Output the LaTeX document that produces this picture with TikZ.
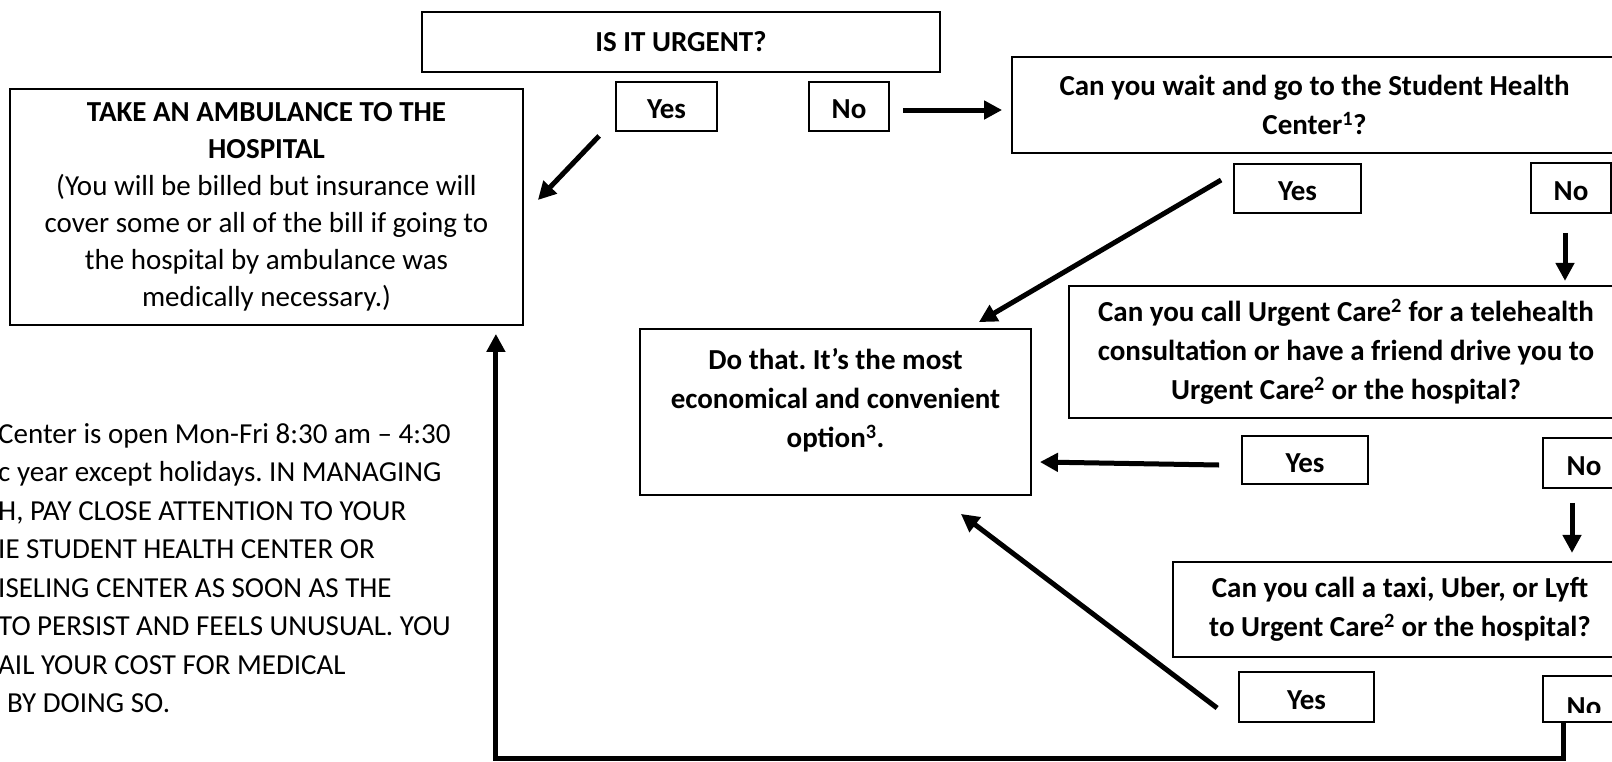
\documentclass[tikz,border=0pt]{standalone}
\usepackage{fontspec}
\setmainfont{Carlito}
\usetikzlibrary{arrows.meta}
\frenchspacing

\tikzset{
  qbox/.style={draw, line width=1.8pt, inner sep=0pt, align=center,
    font=\fontsize{29}{39}\selectfont\bfseries},
  ansbox/.style={qbox, minimum height=49pt, text height=30pt, text depth=6pt},
  arr/.style={line width=5pt, -{Triangle[length=18pt,width=18pt]}},
}

\begin{document}
\begin{tikzpicture}[x=1pt, y=-1pt]
\path[use as bounding box, fill=white] (0,0) rectangle (1612,761);
\clip (0,0) rectangle (1612,761);

% question boxes
\node[qbox, minimum width=518pt, minimum height=60pt] (urgent) at (681,42) {IS IT URGENT?};
\node[ansbox, minimum width=101pt] (yes1) at (666.5,106.5) {Yes};
\node[ansbox, minimum width=80pt] (no1) at (849,106.5) {No};

\node[draw, line width=1.8pt, minimum width=513pt, minimum height=236pt, inner sep=0pt,
  align=center, font=\fontsize{29}{37}\selectfont] (take) at (266.5,207)
  {\textbf{TAKE AN AMBULANCE TO THE}\\\textbf{HOSPITAL}\\(You will be billed but insurance will\\
   cover some or all of the bill if going to\\the hospital by ambulance was\\medically necessary.)};

\node[qbox, minimum width=605pt, minimum height=96pt] (wait) at (1314.5,105)
  {Can you wait and go to the Student Health\\Center\textsuperscript{1}?};
\node[ansbox, minimum width=127pt] (yes2) at (1297.5,188.5) {Yes};
\node[ansbox, minimum width=80pt, minimum height=50pt] (no2) at (1571,188) {No};

\node[qbox, minimum width=554pt, minimum height=132pt] (ucare) at (1346,352)
  {Can you call Urgent Care\textsuperscript{2} for a telehealth\\consultation or have a friend drive you to\\Urgent Care\textsuperscript{2} or the hospital?};

\node[qbox, minimum width=391pt, minimum height=166pt] (do) at (835.5,412) {};
\node[qbox, draw=none] (dotext) at ([shift={(0,-12)}]do.center)
  {Do that. It's the most\\economical and convenient\\option\textsuperscript{3}.};

\node[ansbox, minimum width=126pt, minimum height=48pt] (yes3) at (1305,460) {Yes};
\node[ansbox, minimum width=82pt, minimum height=50pt] (no3) at (1584,463) {No};

\node[qbox, minimum width=454pt, minimum height=95pt] (taxi) at (1400,609.5)
  {Can you call a taxi, Uber, or Lyft\\to Urgent Care\textsuperscript{2} or the hospital?};
\node[ansbox, minimum width=135pt, minimum height=50pt] (yes4) at (1306.5,697) {Yes};
\node[ansbox, minimum width=82pt, minimum height=46pt] (no4) at (1584,699) {};
\begin{scope}
  \clip (no4.north west) rectangle ([shift={(0,-10)}]no4.south east);
  \node[qbox, draw=none] (no4text) at ([shift={(0,8)}]no4.center) {No};
\end{scope}

% footnote text, cut at the left edge
\node[anchor=west, inner sep=0pt, align=left, font=\fontsize{29}{38.5}\selectfont] (note) at (-2,568)
  {Center is open Mon-Fri 8:30 am -- 4:30\\
   c year except holidays. IN MANAGING\\
   H, PAY CLOSE ATTENTION TO YOUR\\
   IE STUDENT HEALTH CENTER OR\\
   ISELING CENTER AS SOON AS THE\\
   TO PERSIST AND FEELS UNUSUAL. YOU\\
   AIL YOUR COST FOR MEDICAL\\
   \hspace*{9pt}BY DOING SO.};

% arrows
\draw[arr] ([shift={(-16,4)}]yes1.south west) -- ([shift={(14,-7)}]take.east);
\draw[arr] ([shift={(13,3.5)}]no1.east) -- ([shift={(-9,5)}]wait.west);
\draw[arr] ([shift={(-12,-8.5)}]yes2.west) -- ([shift={(-53,-6)}]do.north east);
\draw[arr] ([shift={(-6,19)}]no2.south) -- ([shift={(-6,67)}]no2.south);
\draw[arr] ([shift={(-22,5)}]yes3.west) -- ([shift={(8,50)}]do.east);
\draw[arr] ([shift={(-12,14)}]no3.south) -- ([shift={(-12,64)}]no3.south);
\draw[arr] ([shift={(-21,11)}]yes4.west) -- ([shift={(-71,18)}]do.south east);
\draw[arr] ([shift={(-21,0)}]no4.south) -- ++(0,36) -| ([shift={(-28,8)}]take.south east);
\end{tikzpicture}
\end{document}
